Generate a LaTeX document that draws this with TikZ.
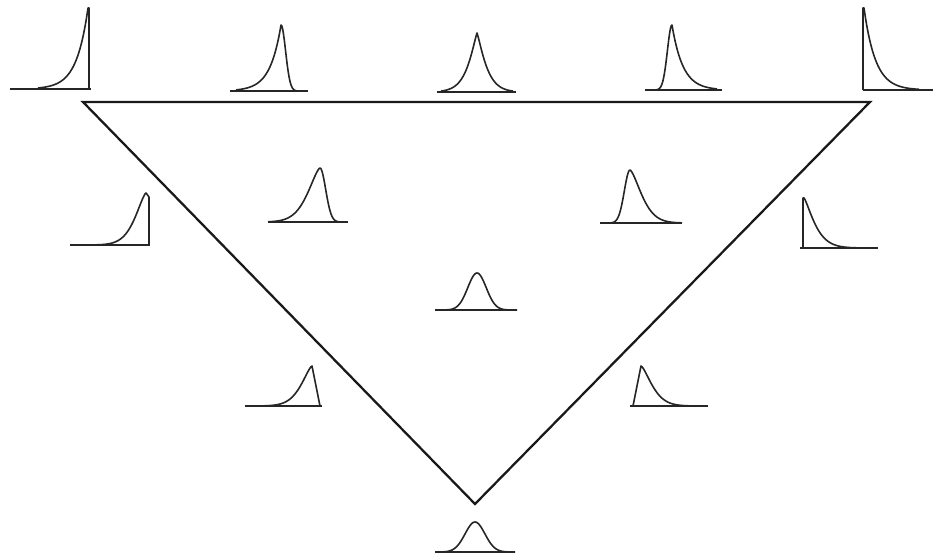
\documentclass[tikz,border=0pt]{standalone}
\begin{document}
\begin{tikzpicture}[x=0.75pt,y=-0.75pt,
  curve/.style={line width=1.2pt,line join=round,color=black!85},
  tri/.style={line width=1.7pt,line join=miter,color=black!90},
  declare function={ek(\d,\s,\p)=exp(-((abs(\d)+0.01)/\s)^\p);}]
\useasboundingbox (0,0) rectangle (935,559);
% triangle
\coordinate (TL) at (83,102);
\coordinate (TR) at (870,102);
\coordinate (B) at (475,504);
\draw[tri] (TL) -- (TR) -- (B) -- cycle;
% 1 top-left
\draw[curve] (10,89) -- (91,89);
\draw[curve] plot[domain=-50:0,samples=60] ({88+\x},{89-81*ek(\x,11.5,1)}) -- (89,8) -- (89,89);
% 2
\draw[curve] (230,91) -- (308,91);
\draw[curve] plot[domain=-45:0,samples=60] ({281+\x},{91-66*ek(\x,11,1)}) -- plot[domain=0:18,samples=30] ({281+\x},{91-66*ek(\x,6.5,2)});
% 3
\draw[curve] (437,92) -- (516,92);
\draw[curve] plot[domain=-36:0,samples=50] ({477+\x},{92-59*ek(\x,11,1.2)}) -- plot[domain=0:36,samples=50] ({477+\x},{92-59*ek(\x,11,1.2)});
% 4
\draw[curve] (645,90) -- (722,90);
\draw[curve] plot[domain=-18:0,samples=30] ({672+\x},{90-65*ek(\x,6.5,2)}) -- plot[domain=0:45,samples=60] ({672+\x},{90-65*ek(\x,11,1)});
% 5 top-right
\draw[curve] (863,90) -- (933,90);
\draw[curve] (863,90) -- (863,8) -- plot[domain=0:55,samples=60] ({864+\x},{90-82*ek(\x,11.5,1)});
% 6 left middle
\draw[curve] (70,245) -- (150,245);
\draw[curve] plot[domain=-60:0,samples=60] ({146+\x},{245-52*ek(\x,15,1.45)}) -- (149,197) -- (149,245);
% 7
\draw[curve] (268,222) -- (348,222);
\draw[curve] plot[domain=-52:0,samples=60] ({320+\x},{222-54*ek(\x,17,1.5)}) -- plot[domain=0:22,samples=30] ({320+\x},{222-54*ek(\x,8,2)});
% 8
\draw[curve] (600,223) -- (682,223);
\draw[curve] plot[domain=-22:0,samples=30] ({630+\x},{223-53*ek(\x,8,2)}) -- plot[domain=0:52,samples=60] ({630+\x},{223-53*ek(\x,16,1.5)});
% 9 right middle
\draw[curve] (800,248) -- (878,248);
\draw[curve] (803,248) -- (803,198) -- plot[domain=0:60,samples=60] ({804+\x},{248-50*ek(\x,14,1.3)});
% 10 centre
\draw[curve] (435,310) -- (515,310);
\draw[curve] plot[domain=-40:40,samples=81] ({477+\x},{310-37*ek(\x,13,2)});
% 11 lower left
\draw[curve] (245,406) -- (322,406);
\draw[curve] plot[domain=-60:0,samples=60] ({312+\x},{406-40*ek(\x,15,1.45)}) -- (320,406);
% 12 lower right
\draw[curve] (630,406) -- (708,406);
\draw[curve] (633,406) -- plot[domain=0:60,samples=60] ({641+\x},{406-40*ek(\x,15,1.45)});
% 13 bottom
\draw[curve] (435,552) -- (515,552);
\draw[curve] plot[domain=-40:40,samples=81] ({475+\x},{552-30*ek(\x,14,2)});
\end{tikzpicture}
\end{document}
